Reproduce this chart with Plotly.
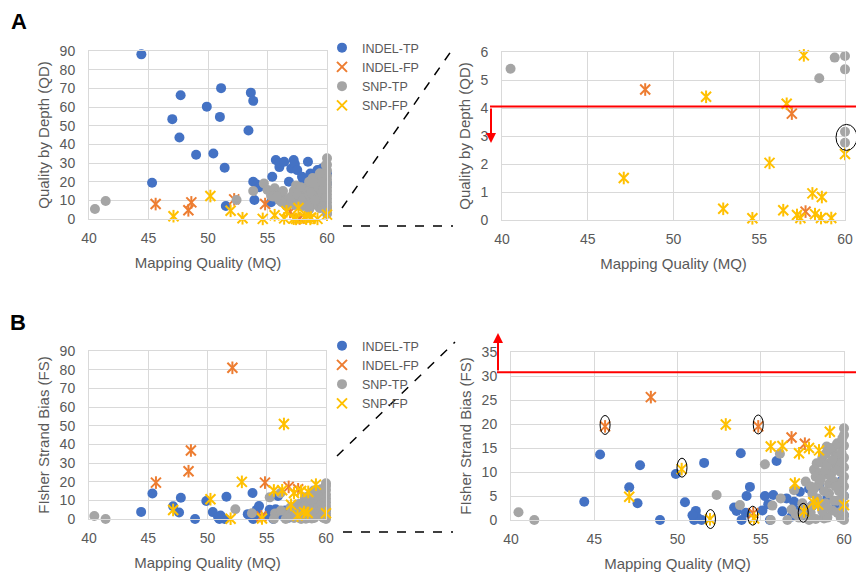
import plotly.graph_objects as go

W, H = 856, 573

# ---------------- Panel A: Quality by Depth (QD) vs Mapping Quality (MQ) ----------------
a_indel_tp_mq = [44.4, 45.3, 47.0, 47.6, 47.7, 49.0, 49.9, 50.45, 51.0, 51.1, 51.4, 51.5, 53.4, 53.6,
                 53.8, 53.8, 53.9, 54.1, 54.3, 55.3, 55.4, 55.7, 56.0, 56.0, 56.4, 56.8, 57.0, 57.2,
                 57.3, 57.5, 57.9, 58.0, 58.4, 58.6, 58.8, 59.2, 59.4, 59.6, 59.8, 60.0, 60.0]
a_indel_tp_qd = [88.2, 19.4, 53.5, 43.7, 66.3, 34.4, 60.2, 35.1, 54.7, 70.1, 27.5, 7.0, 47.4, 67.7,
                 63.3, 20.0, 10.2, 18.5, 17.0, 9.0, 22.6, 31.6, 27.8, 30.0, 30.7, 20.0, 27.1, 31.6,
                 29.5, 26.2, 22.6, 21.0, 30.7, 24.4, 18.0, 26.2, 22.5, 27.1, 21.0, 24.4, 19.0]

a_indel_fp_mq = [45.6, 48.35, 48.6, 52.2, 54.8, 56.9, 57.7]
a_indel_fp_qd = [8.0, 4.66, 8.9, 10.5, 8.0, 3.8, 0.3]

a_snp_tp_mq = [40.5, 41.4, 52.4, 53.8, 54.7, 55.0, 55.3, 55.6, 55.9, 56.2, 56.5, 56.8, 57.0, 57.2,
               57.4, 57.6, 57.8, 58.0, 58.2, 58.3, 58.5, 58.5, 58.6, 58.8, 59.0, 59.1, 59.2, 59.3,
               59.4, 59.4, 59.5, 59.6, 59.7, 59.8, 59.9, 60.0, 60.0, 60.0, 60.0, 60.0, 60.0, 60.0,
               60.0, 60.0, 60.0, 60.0, 60.0, 60.0, 60.0, 60.0, 60.0, 59.9, 56.0, 55.5, 56.6, 57.3,
               58.0, 57.1, 58.4, 59.5, 56.3, 57.8, 59.0, 58.8,
               57.5, 58.1, 58.7, 59.2, 59.6, 59.9, 59.3, 58.9, 59.7, 57.9, 58.5, 59.0, 56.8, 56.2,
               55.8, 59.6, 59.9, 59.4]
a_snp_tp_qd = [5.4, 9.6, 10.2, 15.0, 19.0, 15.5, 12.5, 16.5, 14.0, 12.0, 10.0, 8.0, 12.0, 15.0,
               18.0, 11.0, 7.0, 14.0, 9.0, 17.0, 20.0, 5.06, 6.5, 12.0, 16.0, 8.0, 21.0, 6.8,
               5.8, 13.0, 18.0, 7.0, 22.0, 10.0, 15.0, 5.86, 5.38, 3.15, 2.76, 7.0, 9.0, 11.0,
               13.0, 15.0, 17.0, 19.0, 21.0, 23.0, 26.0, 29.0, 32.5, 28.9, 10.0, 12.0, 7.0, 7.5,
               7.0, 8.5, 12.5, 9.5, 15.0, 17.0, 19.0, 22.0,
               13.0, 11.0, 14.0, 11.0, 12.0, 12.0, 17.0, 19.5, 16.0, 9.5, 7.5, 10.0, 11.0, 9.0,
               12.0, 20.0, 24.0, 24.5]

a_snp_fp_mq = [47.1, 50.2, 51.9, 52.9, 54.6, 55.6, 56.4, 56.6, 57.2, 57.4, 57.6, 58.1, 58.25, 58.6,
               58.65, 59.2, 60.0]
a_snp_fp_qd = [1.5, 12.3, 4.4, 0.4, 0.06, 2.04, 0.35, 4.15, 0.18, 0.07, 5.88, 0.95, 0.21, 0.07,
               0.82, 0.07, 2.36]

# ---------------- Panel B: Fisher Strand Bias (FS) vs Mapping Quality (MQ) ----------------
b_indel_tp_mq = [44.4, 45.35, 47.1, 47.6, 47.75, 48.95, 49.9, 50.45, 51.1, 51.0, 51.45, 51.6, 53.4,
                 53.55, 53.8, 53.85, 54.15, 54.35, 55.25, 55.45, 55.75, 55.95, 55.55, 56.55, 57.0,
                 57.35, 56.85, 57.2, 57.6, 58.1, 58.5, 59.0, 59.5, 60.0, 60.0, 59.8, 58.8, 57.9,
                 56.3, 55.1, 54.1, 51.2, 50.9]
b_indel_tp_fs = [3.8, 13.65, 6.8, 3.5, 11.4, 0.0, 9.6, 3.7, 1.9, 0.0, 0.0, 11.9, 2.6,
                 1.9, 13.9, 0.0, 5.0, 6.9, 5.0, 3.3, 5.2, 12.3, 0.0, 4.5, 3.8,
                 5.9, 0.7, 2.0, 1.0, 3.0, 7.2, 4.5, 2.5, 5.0, 1.0, 8.0, 0.5, 6.5,
                 1.8, 2.0, 1.5, 0.5, 1.0]

b_indel_fp_mq = [45.65, 48.4, 48.6, 52.1, 54.55, 54.85, 56.85, 57.65]
b_indel_fp_fs = [19.5, 25.6, 36.7, 81.0, 1.4, 19.5, 17.2, 15.9]

b_snp_tp_mq = [40.45, 41.4, 52.35, 53.75, 55.25, 56.15, 55.7, 55.6, 56.2, 56.6, 56.85, 57.0, 57.5,
               57.7, 57.3, 58.0, 58.1, 58.2, 58.36, 58.5, 58.6, 58.7, 58.8, 58.96, 59.0, 59.1,
               59.2, 59.3, 59.4, 59.5, 59.56, 59.6, 59.7, 59.8, 59.8, 59.9, 60.0, 60.0, 60.0,
               60.0, 60.0, 60.0, 60.0, 60.0, 60.0, 60.0, 60.0, 59.0, 58.3, 57.9, 57.1, 58.9,
               59.3, 58.5,
               58.0, 58.3, 58.6, 58.9, 59.2, 59.5, 59.7, 59.9, 59.3, 59.1, 58.8, 58.4, 58.7, 59.0,
               59.4, 59.6, 59.9, 59.7, 59.5, 59.2, 58.9, 58.1, 57.8, 57.4, 59.85, 59.85, 59.6,
               59.9, 59.0, 59.3, 58.6, 58.2]
b_snp_tp_fs = [1.6, 0.0, 5.2, 3.1, 11.6, 13.8, 3.0, 0.0, 4.5, 0.0, 2.2, 6.2, 3.5,
               8.0, 0.5, 1.5, 5.5, 10.5, 11.8, 7.5, 3.0, 13.0, 0.3, 15.3, 9.5, 5.5,
               12.0, 2.0, 8.0, 11.5, 15.6, 4.0, 13.5, 0.5, 10.0, 6.5, 19.1, 17.7, 15.5,
               13.0, 11.0, 9.0, 7.0, 5.0, 3.0, 1.0, 0.0, 0.5, 0.2, 0.0, 1.2, 3.5,
               14.5, 9.8,
               7.0, 9.0, 12.0, 13.8, 15.0, 13.0, 11.0, 8.0, 10.0, 7.5, 6.0, 4.5, 1.8, 2.5,
               4.0, 1.5, 2.0, 6.0, 7.0, 9.0, 10.5, 3.0, 2.5, 1.0, 12.0, 14.0, 16.0,
               17.0, 11.5, 12.5, 8.5, 6.5]

b_snp_fp_mq = [47.1, 50.25, 51.95, 52.9, 54.6, 55.6, 56.3, 56.45, 57.05, 57.3, 57.6, 57.9, 58.15,
               58.45, 58.5, 59.15, 60.0]
b_snp_fp_fs = [4.85, 10.6, 0.15, 19.9, 0.3, 15.3, 15.4, 50.9, 7.6, 13.9, 1.8, 15.0, 3.7,
               3.2, 14.5, 18.4, 3.1]

# ---------------- axes / annotations ----------------
mq_range = [40, 60]
mq_ticks = [40, 45, 50, 55, 60]
full_ticks = [0, 10, 20, 30, 40, 50, 60, 70, 80, 90]
qd_zoom_ticks = [0, 1, 2, 3, 4, 5, 6]
fs_zoom_ticks = [0, 5, 10, 15, 20, 25, 30, 35]

QD_CUT = 4.05
FS_CUT = 30.8
a_circled_mq = [60.0]
a_circled_qd = [2.95]
b_circled_mq = [45.65, 50.27, 51.98, 54.52, 54.85, 57.55]
b_circled_fs = [19.8, 10.9, 0.2, 0.9, 19.9, 1.5]

BLUE, ORANGE, GRAY, YELLOW = "#4472C4", "#ED7D31", "#A5A5A5", "#FFC000"
GRID = "#d9d9d9"
TXT = "#595959"
FONT = "Liberation Sans, Arial, sans-serif"

fig = go.Figure()


def add_series(mq, val, name, color, kind, xa, ya, ymax, legend, show):
    pts = [(m, v) for m, v in zip(mq, val) if v <= ymax]
    xs = [p[0] for p in pts]
    ys = [p[1] for p in pts]
    if kind == "tp":
        fig.add_trace(go.Scatter(x=xs, y=ys, mode="markers", name=name,
                                 marker=dict(symbol="circle", size=10, color=color),
                                 xaxis=xa, yaxis=ya, legend=legend, showlegend=show,
                                 cliponaxis=False, hoverinfo="skip"))
    else:
        fig.add_trace(go.Scatter(x=xs, y=ys, mode="markers", name=name,
                                 marker=dict(symbol="x-thin-open", size=10, color=color,
                                             line=dict(color=color, width=2)),
                                 xaxis=xa, yaxis=ya, legend=legend, showlegend=show,
                                 cliponaxis=False, hoverinfo="skip"))
        fig.add_trace(go.Scatter(x=xs, y=ys, mode="markers", name=name,
                                 marker=dict(symbol="line-ns-open", size=9, color=color,
                                             line=dict(color=color, width=2)),
                                 xaxis=xa, yaxis=ya, showlegend=False,
                                 cliponaxis=False, hoverinfo="skip"))


def add_panel(series, xa, ya, ymax, legend, show):
    for mq, val, name, color, kind in series:
        add_series(mq, val, name, color, kind, xa, ya, ymax, legend, show)


a_series = [(a_indel_tp_mq, a_indel_tp_qd, "INDEL-TP", BLUE, "tp"),
            (a_indel_fp_mq, a_indel_fp_qd, "INDEL-FP", ORANGE, "fp"),
            (a_snp_tp_mq, a_snp_tp_qd, "SNP-TP", GRAY, "tp"),
            (a_snp_fp_mq, a_snp_fp_qd, "SNP-FP", YELLOW, "fp")]
b_series = [(b_indel_tp_mq, b_indel_tp_fs, "INDEL-TP", BLUE, "tp"),
            (b_indel_fp_mq, b_indel_fp_fs, "INDEL-FP", ORANGE, "fp"),
            (b_snp_tp_mq, b_snp_tp_fs, "SNP-TP", GRAY, "tp"),
            (b_snp_fp_mq, b_snp_fp_fs, "SNP-FP", YELLOW, "fp")]

add_panel(a_series, "x", "y", 90, "legend", True)
add_panel(a_series, "x2", "y2", 6, "legend", False)
add_panel(b_series, "x3", "y3", 90, "legend2", True)
add_panel(b_series, "x4", "y4", 35, "legend2", False)


def xax(dom, title):
    return dict(domain=dom, range=mq_range, tickvals=mq_ticks, showgrid=True, gridcolor=GRID,
                showline=True, linecolor=GRID, mirror=True, zeroline=False, ticks="",
                ticklabelstandoff=6, tickfont=dict(size=14, color=TXT, family=FONT),
                automargin=False,
                title=dict(text=title, font=dict(size=15, color=TXT, family=FONT), standoff=12))


def yax(dom, rng, ticks, title, anchor):
    return dict(domain=dom, range=rng, tickvals=ticks, showgrid=True, gridcolor=GRID,
                showline=True, linecolor=GRID, mirror=True, zeroline=False, ticks="",
                ticklabelstandoff=10, anchor=anchor, automargin=False,
                tickfont=dict(size=14, color=TXT, family=FONT),
                title=dict(text=title, font=dict(size=15, color=TXT, family=FONT), standoff=6))


def px(v):
    return v / W


def py(v):
    return 1 - v / H


layout_axes = dict(
    xaxis=dict(xax([px(89), px(327)], "Mapping Quality (MQ)"), anchor="y"),
    yaxis=yax([py(219), py(51)], [0, 90], full_ticks, "Quality by Depth (QD)", "x"),
    xaxis2=dict(xax([px(502), px(845)], "Mapping Quality (MQ)"), anchor="y2"),
    yaxis2=yax([py(220), py(52)], [0, 6], qd_zoom_ticks, "Quality by Depth (QD)", "x2"),
    xaxis3=dict(xax([px(89), px(326)], "Mapping Quality (MQ)"), anchor="y3"),
    yaxis3=yax([py(519), py(351)], [0, 90], full_ticks, "FIsher Strand Bias (FS)", "x3"),
    xaxis4=dict(xax([px(511), px(844)], "Mapping Quality (MQ)"), anchor="y4"),
    yaxis4=yax([py(520), py(352)], [0, 35], fs_zoom_ticks, "FIsher Strand Bias (FS)", "x4"),
)

legend_style = dict(xanchor="left", yanchor="top", bgcolor="rgba(0,0,0,0)",
                    font=dict(size=12.5, color=TXT, family=FONT), tracegroupgap=0,
                    itemclick=False, itemdoubleclick=False)

shapes = []
# threshold lines
shapes.append(dict(type="line", xref="paper", yref="y2", x0=px(490), x1=1.0,
                   y0=QD_CUT, y1=QD_CUT, line=dict(color="red", width=2)))
shapes.append(dict(type="line", xref="paper", yref="y4", x0=px(497), x1=1.0,
                   y0=FS_CUT, y1=FS_CUT, line=dict(color="red", width=2)))
# zoom connector dashed lines
for x0, y0, x1, y1 in [(342, 208, 454, 47), (343, 226, 453, 226),
                       (337, 456, 455, 342), (343, 532, 453, 532)]:
    shapes.append(dict(type="line", xref="paper", yref="paper", x0=px(x0), y0=py(y0),
                       x1=px(x1), y1=py(y1), line=dict(color="black", width=1.5, dash="dash")))
# circled points
for m, v in zip(a_circled_mq, a_circled_qd):
    shapes.append(dict(type="circle", xref="x2 domain", yref="y2 domain",
                       xsizemode="pixel", ysizemode="pixel",
                       xanchor=(m - 40) / 20, yanchor=v / 6, x0=-9, x1=12, y0=-13, y1=13,
                       line=dict(color="black", width=1)))
for m, v in zip(b_circled_mq, b_circled_fs):
    shapes.append(dict(type="circle", xref="x4 domain", yref="y4 domain",
                       xsizemode="pixel", ysizemode="pixel",
                       xanchor=(m - 40) / 20, yanchor=v / 35, x0=-5, x1=5, y0=-9.5, y1=9.5,
                       line=dict(color="black", width=1)))

annotations = [
    dict(text="<b>A</b>", x=px(19), y=py(22), xref="paper", yref="paper", showarrow=False,
         xanchor="center", yanchor="middle",
         font=dict(size=22, color="black", family=FONT)),
    dict(text="<b>B</b>", x=px(18), y=py(322), xref="paper", yref="paper", showarrow=False,
         xanchor="center", yanchor="middle",
         font=dict(size=22, color="black", family=FONT)),
    dict(text="", x=px(491), y=py(143), xref="paper", yref="paper", showarrow=True,
         ax=0, ay=-36, arrowhead=2, arrowsize=1, arrowwidth=2, arrowcolor="red"),
    dict(text="", x=px(498), y=py(333), xref="paper", yref="paper", showarrow=True,
         ax=0, ay=39, arrowhead=2, arrowsize=1, arrowwidth=2, arrowcolor="red"),
]

fig.update_layout(
    width=W, height=H, margin=dict(l=0, r=0, t=0, b=0, pad=0, autoexpand=False),
    paper_bgcolor="white", plot_bgcolor="white",
    font=dict(family=FONT, color=TXT),
    legend=dict(legend_style, x=px(322), y=py(33)),
    legend2=dict(legend_style, x=px(322), y=py(331)),
    shapes=shapes, annotations=annotations,
    **layout_axes,
)

fig.write_html("out.html", config={"displayModeBar": False},
               post_script="document.body.style.margin='0';document.body.style.overflow='hidden';")
